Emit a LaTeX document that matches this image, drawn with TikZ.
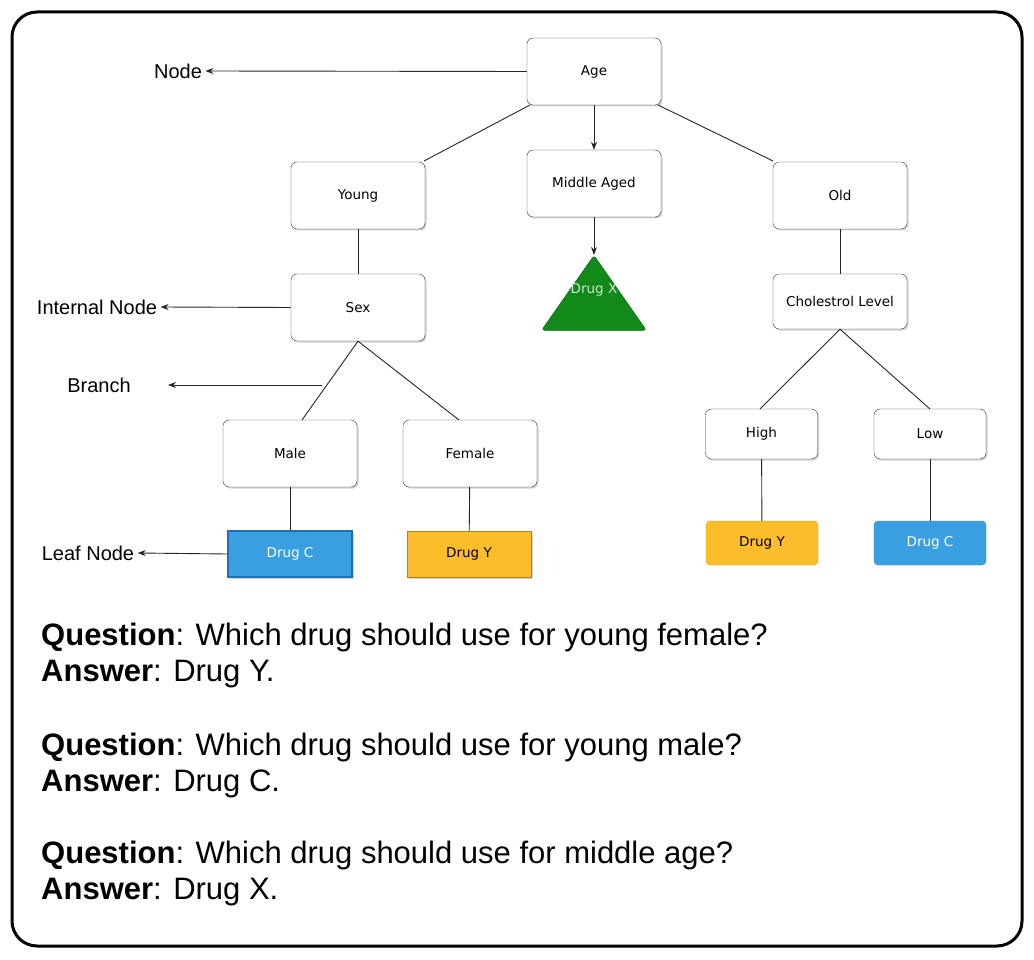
\documentclass[tikz,border=0pt]{standalone}
\usepackage{fontspec}
\setmainfont{Liberation Sans}
\newfontfamily\djvfont{DejaVu Sans}
\usetikzlibrary{arrows.meta,shapes.geometric,shadows}
\definecolor{dblue}{HTML}{3A9FE0}
\definecolor{dbord}{HTML}{1F6FB5}
\definecolor{dyel}{HTML}{FBBE2A}
\definecolor{dgreen}{HTML}{118A1A}
\begin{document}
\begin{tikzpicture}[x=1pt,y=-1pt,
 nf/.style={font=\djvfont\fontsize{13.5}{15}\selectfont},
 box/.style={nf,draw=black!80,rounded corners=6pt,fill=white,minimum width=134pt,minimum height=67pt,drop shadow={shadow xshift=1.5pt,shadow yshift=-1.5pt,opacity=0.35}},
 sbox/.style={box,minimum width=112pt,minimum height=50pt},
 leaf/.style={nf,draw=#1!70!black,fill=#1,minimum width=124pt,minimum height=46pt,drop shadow={shadow xshift=1.5pt,shadow yshift=-1.5pt,opacity=0.35}},
 rleaf/.style={nf,draw=#1!85!black,fill=#1,rounded corners=4pt,minimum width=112pt,minimum height=44pt},
 ln/.style={draw=black!85,line width=0.9pt},
 arr/.style={ln,-{Stealth[length=8pt,width=6pt]}},
 ann/.style={font=\fontsize{20}{22}\selectfont,anchor=center},
 q/.style={font=\fontsize{31}{34}\selectfont,anchor=west,inner sep=0}]
\useasboundingbox (0,0) rectangle (1034,960);
\draw[line width=3pt,rounded corners=25pt] (12,12) rectangle (1022,946);
\node[box] (age) at (594,71.5) {Age};
\node[box] (young) at (358,195.5) {Young};
\node[box] (mid) at (594,183.5) {Middle Aged};
\node[box] (old) at (840,195.5) {Old};
\node[draw=dgreen!70!black,fill=dgreen,rounded corners=3pt,isosceles triangle,isosceles triangle apex angle=70,shape border rotate=90,minimum height=75pt,inner sep=0pt,anchor=north] (dx) at (594,255) {};
\node[nf,text=white!80!dgreen] (dxl) at (594,290) {Drug X};
\node[box] (sex) at (358,307.5) {Sex};
\node[box,minimum height=55pt] (chol) at (840,301.5) {Cholestrol Level};
\node[box] (male) at (290,453.5) {Male};
\node[box] (fem) at (470,453.5) {Female};
\node[sbox] (high) at (761.5,434) {High};
\node[sbox] (low) at (930,434) {Low};
\node[leaf=dblue,text=white,line width=1.5pt,draw=dbord] (dc1) at (290,554) {Drug C};
\node[leaf=dyel] (dy1) at (469,554) {Drug Y};
\node[rleaf=dyel] (dy2) at (762,543) {Drug Y};
\node[rleaf=dblue,text=white] (dc2) at (930,543) {Drug C};
\draw[ln] (530,105) -- (424,161);
\draw[ln] (658,105) -- (773,161);
\draw[arr] (age.south) -- (mid.north);
\draw[arr] (mid.south) -- (dx.north);
\draw[ln] (young) -- (sex);
\draw[ln] (old) -- (chol);
\draw[ln] (sex.south) -- (302,420);
\draw[ln] (sex.south) -- (459,420);
\draw[ln] (chol.south) -- (760,409);
\draw[ln] (chol.south) -- (930,409);
\draw[ln] (male) -- (dc1);
\draw[ln] (fem) -- (dy1);
\draw[ln] (high) -- (dy2);
\draw[ln] (low) -- (dc2);
\node[ann] (tn) at (178,71) {Node};
\node[ann] (ti) at (97,307) {Internal Node};
\node[ann] (tb) at (99,385) {Branch};
\node[ann] (tl) at (88,553) {Leaf Node};
\coordinate (bp) at (322,385);
\coordinate (be) at (168,385);
\draw[arr] (age.west) -- (tn.east);
\draw[arr] (sex.west) -- (ti.east);
\draw[arr] (bp) -- (be);
\draw[arr] (dc1.west) -- (tl.east);
\node[q] (q1) at (41,637) {\textbf{Question}: Which drug should use for young female?};
\node[q] (a1) at (41,674) {\textbf{Answer}: Drug Y.};
\node[q] (q2) at (41,747) {\textbf{Question}: Which drug should use for young male?};
\node[q] (a2) at (41,784) {\textbf{Answer}: Drug C.};
\node[q] (q3) at (41,855) {\textbf{Question}: Which drug should use for middle age?};
\node[q] (a3) at (41,892) {\textbf{Answer}: Drug X.};
\end{tikzpicture}
\end{document}
